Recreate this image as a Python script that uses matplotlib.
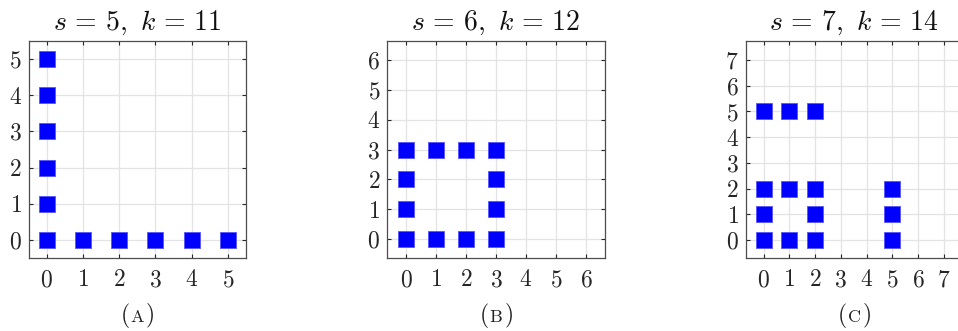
import matplotlib
matplotlib.use("Agg")
import matplotlib.pyplot as plt

plt.rcParams['mathtext.fontset'] = 'cm'
plt.rcParams['font.family'] = 'serif'
plt.rcParams['font.serif'] = ['cmr10', 'DejaVu Serif']
plt.rcParams['axes.formatter.use_mathtext'] = True

# datos de cada panel
s_vals = [5, 6, 7]
k_vals = [11, 12, 14]
etiquetas = ['A', 'B', 'C']

xa = [0, 0, 0, 0, 0, 0, 1, 2, 3, 4, 5]
ya = [0, 1, 2, 3, 4, 5, 0, 0, 0, 0, 0]

xb = [0, 1, 2, 3, 0, 3, 0, 3, 0, 1, 2, 3]
yb = [0, 0, 0, 0, 1, 1, 2, 2, 3, 3, 3, 3]

xc = [0, 1, 2, 0, 2, 0, 1, 2, 0, 1, 2, 5, 5, 5]
yc = [0, 0, 0, 1, 1, 2, 2, 2, 5, 5, 5, 0, 1, 2]

puntos = [(xa, ya), (xb, yb), (xc, yc)]
limites = [(-0.5, 5.5), (-0.63, 6.63), (-0.7, 7.74)]
posiciones = [
    [28.7 / 958, 73 / 331, 217.3 / 958, 217 / 331],
    [387 / 958, 73 / 331, 218 / 958, 217 / 331],
    [745.7 / 958, 73 / 331, 217 / 958, 217 / 331],
]

fig = plt.figure(figsize=(9.58, 3.31), dpi=100)
gris = '#262626'

for i in range(3):
    ax = fig.add_axes(posiciones[i])
    x, y = puntos[i]
    ax.plot(x, y, linestyle='none', marker='s', markersize=11.5,
            markerfacecolor='#0000ff', markeredgecolor='#5555ff',
            markeredgewidth=0.6, zorder=3)
    lo, hi = limites[i]
    ax.set_xlim(lo, hi)
    ax.set_ylim(lo, hi)
    ticks = list(range(s_vals[i] + 1))
    ax.set_xticks(ticks)
    ax.set_yticks(ticks)
    ax.set_xticklabels([r'$%d$' % t for t in ticks])
    ax.set_yticklabels([r'$%d$' % t for t in ticks])
    ax.tick_params(direction='in', length=3, width=0.8, colors=gris,
                   labelsize=17, top=True, right=True)
    ax.tick_params(axis='x', pad=8)
    ax.tick_params(axis='y', pad=5)
    ax.grid(True, color='#e3e3e3', linewidth=0.9, zorder=0)
    ax.set_axisbelow(True)
    for sp in ax.spines.values():
        sp.set_color('#4d4d4d')
        sp.set_linewidth(0.9)
    ax.set_title(r'$s\,=\,%d,\ k\,=\,%d$' % (s_vals[i], k_vals[i]),
                 fontsize=20, pad=8, color='#111111')

    # etiqueta tipo (A) en versalitas
    cx = posiciones[i][0] + posiciones[i][2] / 2
    cy = 0.028
    ax.annotate(r'$($', xy=(cx, cy), xycoords='figure fraction',
                xytext=(-9, 0), textcoords='offset points',
                ha='center', va='baseline', fontsize=17, color='#222222')
    ax.annotate(r'$\mathrm{%s}$' % etiquetas[i], xy=(cx, cy),
                xycoords='figure fraction', xytext=(0, 0),
                textcoords='offset points', ha='center', va='baseline',
                fontsize=13, color='#222222')
    ax.annotate(r'$)$', xy=(cx, cy), xycoords='figure fraction',
                xytext=(9, 0), textcoords='offset points',
                ha='center', va='baseline', fontsize=17, color='#222222')

fig.savefig('out.png', dpi=100)
